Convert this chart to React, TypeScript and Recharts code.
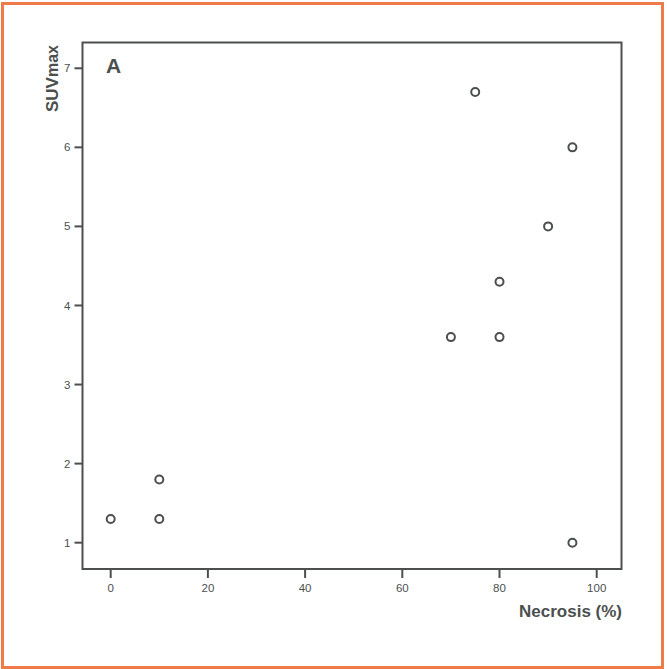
import {
  ReferenceArea,
  Scatter,
  ScatterChart,
  XAxis,
  YAxis,
} from "recharts";

const NECROSIS = [0, 10, 10, 70, 75, 80, 80, 90, 95, 95];
const SUV_MAX = [1.3, 1.8, 1.3, 3.6, 6.7, 4.3, 3.6, 5.0, 6.0, 1.0];

const X_TICKS = [0, 20, 40, 60, 80, 100];
const Y_TICKS = [1, 2, 3, 4, 5, 6, 7];
const X_DOMAIN: [number, number] = [-5.8, 105.1];
const Y_DOMAIN: [number, number] = [0.667, 7.326];

const INK = "#4b504e";
const FONT = "'Liberation Sans', Arial, sans-serif";

const points = NECROSIS.map((x, i) => ({ x, y: SUV_MAX[i] }));

const RingDot = (props: { cx?: number; cy?: number }) => (
  <circle cx={props.cx} cy={props.cy} r={4} fill="#fff" stroke={INK} strokeWidth={2} />
);

const App = () => {
  return (
    <div
      style={{
        position: "absolute",
        left: 0,
        top: 0,
        width: 667,
        height: 669,
        background: "#fff",
        fontFamily: FONT,
      }}
    >
      <div
        style={{
          position: "absolute",
          left: 1,
          top: 2,
          width: 657,
          height: 661,
          border: "3px solid #ef7c48",
        }}
      />
      <div style={{ position: "absolute", left: 0, top: 0 }}>
        <ScatterChart
          width={667}
          height={669}
          margin={{ top: 42.5, right: 45.5, bottom: 70, left: 42.5 }}
        >
          <XAxis
            type="number"
            dataKey="x"
            domain={X_DOMAIN}
            ticks={X_TICKS}
            allowDataOverflow
            height={30}
            axisLine={false}
            tickSize={9}
            tickMargin={6}
            tickLine={{ stroke: INK, strokeWidth: 2 }}
            tick={{ fill: INK, fontSize: 11.5, fontFamily: FONT }}
            label={{
              content: () => (
                <text
                  x={622}
                  y={617}
                  textAnchor="end"
                  fontSize={17}
                  fontWeight="bold"
                  fill={INK}
                  fontFamily={FONT}
                >
                  Necrosis (%)
                </text>
              ),
            }}
          />
          <YAxis
            type="number"
            dataKey="y"
            domain={Y_DOMAIN}
            ticks={Y_TICKS}
            allowDataOverflow
            width={40}
            axisLine={false}
            tickSize={8}
            tickMargin={4}
            tickLine={{ stroke: INK, strokeWidth: 2 }}
            tick={{ fill: INK, fontSize: 11.5, fontFamily: FONT }}
            label={{
              content: () => (
                <text
                  x={58}
                  y={112}
                  transform="rotate(-90 58 112)"
                  textAnchor="start"
                  fontWeight="bold"
                  fill={INK}
                  fontFamily={FONT}
                >
                  <tspan fontSize={17}>SUV</tspan>
                  <tspan fontSize={16}>max</tspan>
                </text>
              ),
            }}
          />
          <ReferenceArea
            x1={X_DOMAIN[0]}
            x2={X_DOMAIN[1]}
            y1={Y_DOMAIN[0]}
            y2={Y_DOMAIN[1]}
            fill="none"
            stroke={INK}
            strokeWidth={2}
            ifOverflow="visible"
            label={{
              content: () => (
                <text
                  x={113.5}
                  y={73}
                  textAnchor="middle"
                  fontSize={21}
                  fontWeight="bold"
                  fill={INK}
                  fontFamily={FONT}
                >
                  A
                </text>
              ),
            }}
          />
          <Scatter data={points} shape={RingDot} isAnimationActive={false} />
        </ScatterChart>
      </div>
    </div>
  );
};

export default App;
